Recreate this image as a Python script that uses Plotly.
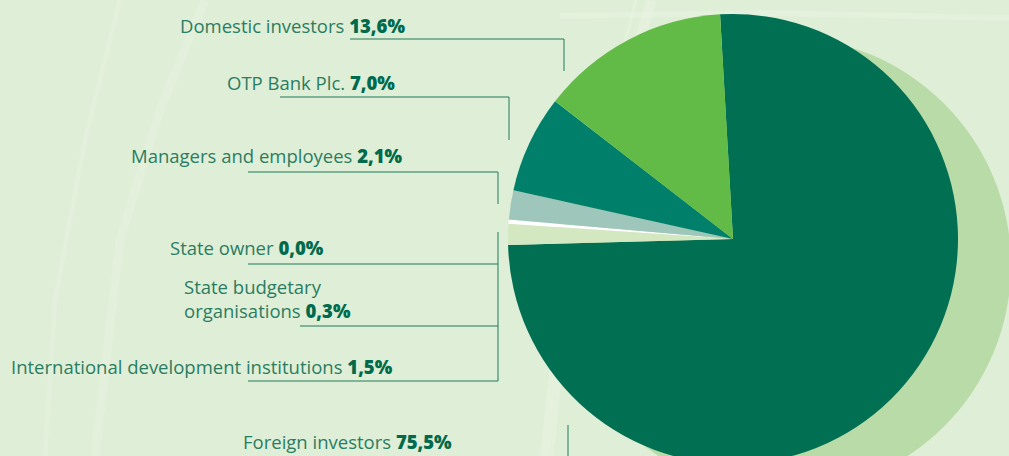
import plotly.graph_objects as go

# ---- data ----
labels = ["Foreign investors", "International development institutions",
          "State budgetary organisations", "State owner",
          "Managers and employees", "OTP Bank Plc.", "Domestic investors"]
values = [75.5, 1.5, 0.3, 0.0, 2.1, 7.0, 13.6]
value_text = ["75,5%", "1,5%", "0,3%", "0,0%", "2,1%", "7,0%", "13,6%"]
colors = ["#006f52", "#d3e7c1", "#ffffff", "#ffffff", "#9fc6bb", "#00806a", "#63bb47"]

W, H = 1009, 470
def px(x):
    return x / W
def py(y):
    return 1 - y / H

BG = "#dfeed6"
LINE = "#1f7a5a"
LABEL = "#2a7d62"
VAL = "#006a4c"

fig = go.Figure()
fig.add_trace(go.Pie(
    labels=labels, values=values, sort=False, direction="clockwise",
    rotation=-3.3, marker=dict(colors=colors, line=dict(width=0)),
    textinfo="none", hoverinfo="label+percent", showlegend=False,
    domain=dict(x=[px(508), px(958)], y=[py(464), py(14)]),
))

shapes = []

def brush(points, width, opacity, color="#e9f4e3"):
    d = "M " + " L ".join(f"{px(x)} {py(y)}" for x, y in points)
    shapes.append(dict(type="path", xref="paper", yref="paper", layer="below",
                       path=d, line=dict(color=color, width=width), opacity=opacity))

brush([(652, 0), (620, 100), (585, 210), (560, 320), (545, 456)], 10, 0.6)
brush([(636, 0), (602, 130), (572, 260), (552, 456)], 3, 0.6)
brush([(205, 0), (160, 110), (120, 240), (95, 456)], 9, 0.45)
brush([(120, 0), (85, 140), (55, 300), (45, 456)], 5, 0.4)
brush([(560, 16), (760, 13), (1009, 18)], 6, 0.5)

# shadow circle
cx, cy, r = 783, 265, 228
shapes.append(dict(type="circle", xref="paper", yref="paper", layer="below",
                   x0=px(cx - r), x1=px(cx + r), y0=py(cy + r), y1=py(cy - r),
                   fillcolor="#b8dba8", line=dict(width=0)))

def seg(x0, y0, x1, y1):
    shapes.append(dict(type="line", xref="paper", yref="paper",
                       x0=px(x0), y0=py(y0), x1=px(x1), y1=py(y1),
                       line=dict(color=LINE, width=1)))

# leader lines
seg(350, 39, 564, 39); seg(564, 39, 564, 71)
seg(280, 97, 509, 97); seg(509, 97, 509, 140)
seg(248, 172, 498, 172); seg(498, 172, 498, 204)
seg(248, 264, 498, 264)
seg(300, 326, 498, 326)
seg(248, 381, 498, 381); seg(498, 232, 498, 381)
seg(568, 425, 568, 470)

fig.update_layout(shapes=shapes)

# labels
FONT = dict(family="'Open Sans', Lato, sans-serif", size=18.5, color=LABEL)
def lab(i, x, y, name=None):
    name = name if name is not None else labels[i]
    fig.add_annotation(x=px(x - 3), y=py(y), xref="paper", yref="paper",
                       xanchor="left", yanchor="middle", align="left",
                       showarrow=False, font=FONT,
                       text=f"{name} <span style='color:{VAL};font-weight:800'>{value_text[i]}</span>")

lab(6, 181, 25)
lab(5, 228, 82)
lab(4, 132, 155)
lab(3, 171, 247)
lab(2, 185, 298, "State budgetary<br>organisations")
lab(1, 12, 366)
lab(0, 244, 441)

fig.update_layout(width=W, height=H, margin=dict(l=0, r=0, t=0, b=0),
                  paper_bgcolor=BG, plot_bgcolor=BG)

fig.write_html("out.html", config=dict(displayModeBar=False),
               post_script="document.documentElement.style.overflow='hidden';"
                           "document.body.style.overflow='hidden';"
                           "document.body.style.margin='0';")
